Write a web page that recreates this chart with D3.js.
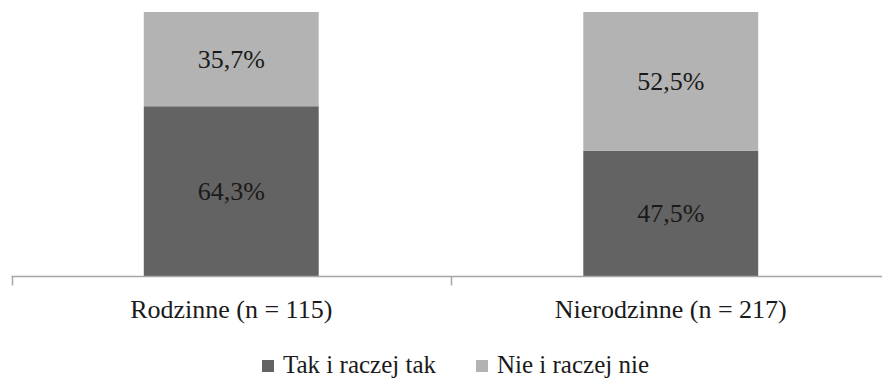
<!DOCTYPE html>
<html><head><meta charset="utf-8"><script src="https://cdn.jsdelivr.net/npm/d3@7"></script></head>
<body style="margin:0">
<svg id="chart" width="882" height="378" style="display:block"></svg>
<script>
// Data
const categories = ["Rodzinne (n = 115)", "Nierodzinne (n = 217)"];
const seriesNames = ["Tak i raczej tak", "Nie i raczej nie"];
const takValues = [64.3, 47.5];
const nieValues = [35.7, 52.5];
const seriesColors = ["#636363", "#b3b3b3"];

const FONT = "Liberation Serif";
const TEXT_COLOR = "#1a1a1a";

const svg = d3.select("#chart");

const x = d3.scaleBand()
  .domain(categories)
  .range([11.5, 890.5])
  .paddingInner(0.602)
  .paddingOuter(0.301);

const y = d3.scaleLinear().domain([0, 100]).range([276, 12]);

const fmt = v => d3.format(".1f")(v).replace(".", ",") + "%";

// Stack the two series per category
const rows = categories.map((c, i) => ({ cat: c, tak: takValues[i], nie: nieValues[i] }));
const layers = d3.stack().keys(["tak", "nie"])(rows);

const g = svg.append("g");
layers.forEach((layer, li) => {
  g.selectAll(null)
    .data(layer)
    .join("rect")
    .attr("x", d => x(d.data.cat))
    .attr("width", x.bandwidth())
    .attr("y", d => y(d[1]))
    .attr("height", d => y(d[0]) - y(d[1]))
    .attr("fill", seriesColors[li]);

  g.selectAll(null)
    .data(layer)
    .join("text")
    .attr("x", d => x(d.data.cat) + x.bandwidth() / 2)
    .attr("y", d => (y(d[0]) + y(d[1])) / 2)
    .attr("dy", "0.35em")
    .attr("text-anchor", "middle")
    .attr("font-family", FONT)
    .attr("font-size", 26)
    .attr("fill", TEXT_COLOR)
    .text(d => fmt(d[1] - d[0]));
});

// Category axis with ticks at band boundaries
const axisY = 276.5;
const [r0, r1] = x.range();
const boundaries = [r0, (r0 + r1) / 2, r1];
svg.append("line")
  .attr("x1", r0).attr("x2", r1)
  .attr("y1", axisY).attr("y2", axisY)
  .attr("stroke", "#a6a6a6").attr("stroke-width", 1.5);
svg.selectAll(".tick")
  .data(boundaries)
  .join("line")
  .attr("x1", d => Math.round(d) + 0.5).attr("x2", d => Math.round(d) + 0.5)
  .attr("y1", axisY).attr("y2", axisY + 9)
  .attr("stroke", "#a6a6a6").attr("stroke-width", 1.5);

svg.selectAll(".cat")
  .data(categories)
  .join("text")
  .attr("x", d => x(d) + x.bandwidth() / 2)
  .attr("y", 318)
  .attr("text-anchor", "middle")
  .attr("font-family", FONT)
  .attr("font-size", 26)
  .attr("fill", TEXT_COLOR)
  .text(d => d);

// Legend
const legendX = [262, 476];
const legend = svg.selectAll(".leg")
  .data(seriesNames)
  .join("g")
  .attr("transform", (d, i) => `translate(${legendX[i]},0)`);
legend.append("rect")
  .attr("x", 0).attr("y", 360)
  .attr("width", 12).attr("height", 12)
  .attr("fill", (d, i) => seriesColors[i]);
legend.append("text")
  .attr("x", 21).attr("y", 373)
  .attr("font-family", FONT)
  .attr("font-size", 25)
  .attr("fill", TEXT_COLOR)
  .text(d => d);
</script>
</body></html>
